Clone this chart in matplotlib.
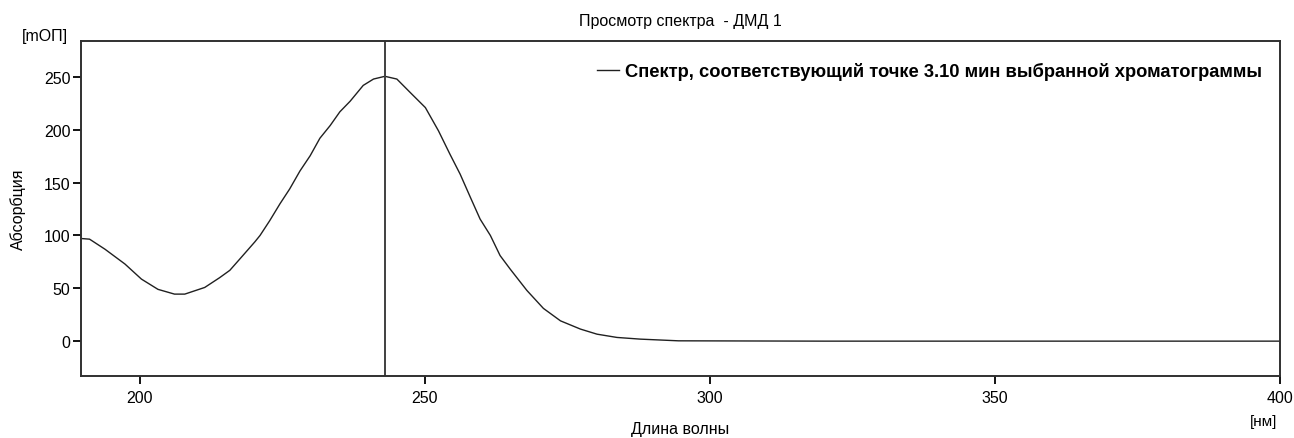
import numpy as np
import matplotlib.pyplot as plt

plt.rcParams['font.family'] = ['Liberation Sans', 'DejaVu Sans']

# spectrum
wavelength = [190.0, 191.2, 193.9, 197.4, 200.3, 203.2, 206.1, 207.9, 211.4, 214.0,
              215.8, 217.6, 220.2, 221.1, 222.8, 224.6, 226.3, 228.1, 229.9, 231.6,
              233.4, 235.1, 236.9, 239.2, 241.0, 243.0, 245.1, 247.4, 250.1, 252.4,
              254.4, 256.2, 258.0, 259.7, 261.5, 263.2, 265.0, 267.9, 270.8, 273.8,
              277.3, 280.2, 283.7, 287.8, 294.5, 320.0, 350.0, 400.0]
absorb = [97.0, 96.5, 87.0, 73.0, 58.7, 49.0, 44.5, 44.5, 50.8, 60.0,
          67.0, 78.0, 94.0, 100.0, 114.0, 130.0, 144.0, 161.0, 175.5, 192.0,
          204.0, 217.0, 227.0, 242.0, 248.0, 250.6, 248.0, 235.5, 221.0, 199.0,
          177.0, 158.0, 136.0, 115.5, 100.0, 81.0, 68.0, 48.0, 31.0, 19.2,
          11.4, 6.6, 3.5, 1.9, 0.3, 0.0, 0.0, 0.0]
cursor_nm = 243.0
legend_text = 'Спектр, соответствующий точке 3.10 мин выбранной хроматограммы'

fig = plt.figure(figsize=(12.94, 4.39), dpi=100)
ax = fig.add_axes([0.0626, 0.1412, 0.9266, 0.7631])

ax.plot(wavelength, absorb, color='#202020', lw=1.0, label=legend_text)
ax.axvline(cursor_nm, color='#404040', lw=1.4)

ax.set_xlim(189.7, 400)
ax.set_ylim(-33, 284)
ax.set_xticks([200, 250, 300, 350, 400])
ax.set_yticks([0, 50, 100, 150, 200, 250])
ax.tick_params(axis='y', direction='out', length=5.5, width=1.3, labelsize=11.5, pad=2)
ax.tick_params(axis='x', direction='out', length=6, width=1.3, labelsize=11.5, pad=4)
for s in ax.spines.values():
    s.set_color('#303030')
    s.set_linewidth(1.4)

# title sits ~20 px above the frame
ax.set_title('Просмотр спектра  - ДМД 1', fontsize=11.5, y=1.06, va='center', pad=0)
ax.set_xlabel('Длина волны', fontsize=11.5, va='center')
ax.xaxis.set_label_coords(0.5, -0.158)
ax.set_ylabel('Абсорбция', fontsize=11.5, va='center')
ax.yaxis.set_label_coords(-0.0525, 0.5)
fig.text(22 / 1294, 1 - 36 / 439, '[mОП]', fontsize=11.5, va='center', ha='left')
fig.text(1277 / 1294, 1 - 422 / 439, '[нм]', fontsize=11, va='center', ha='right')

ax.legend(loc='center right', bbox_to_anchor=(0.985, 0.91), frameon=False,
          borderpad=0, borderaxespad=0, handlelength=1.2, handletextpad=0.35,
          prop={'weight': 'bold', 'size': 13.2})

fig.savefig('out.png', dpi=100)
